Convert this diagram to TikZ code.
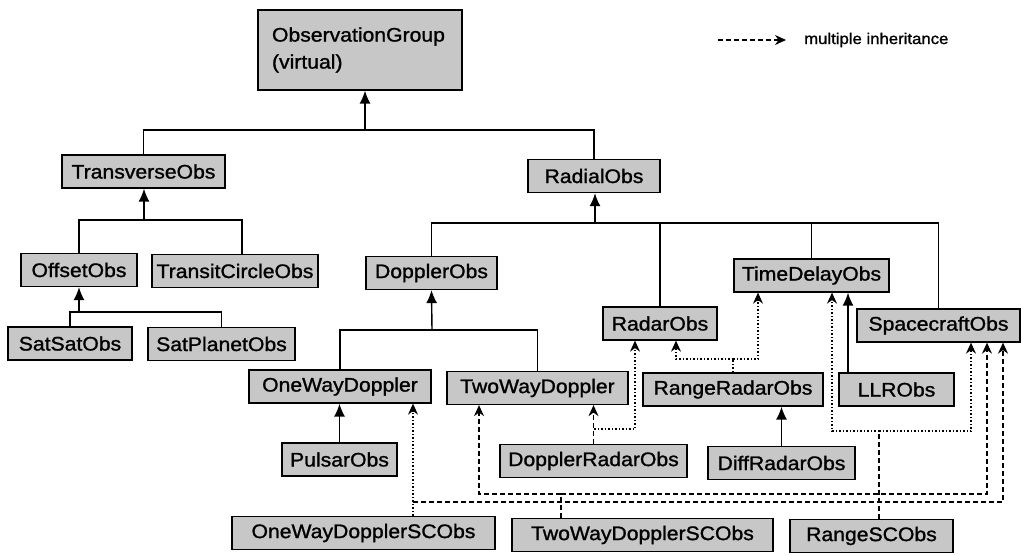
\documentclass[tikz,border=0pt]{standalone}
\usepackage{fontspec}
\setmainfont[FakeStretch=1.08, FakeBold=1.2]{Liberation Sans}
\usepackage{tikz}
\usetikzlibrary{arrows.meta}
\tikzstyle{cls}=[draw=black, line width=1.3pt, fill=black!22, inner sep=0pt, minimum height=33pt, font=\fontsize{19.6}{21}\selectfont]
\tikzstyle{tree}=[line width=1.4pt]
\tikzstyle{isa}=[line width=1.4pt, -{Latex[length=13pt,width=11pt]}]
\tikzstyle{multi}=[line width=1.1pt, dash pattern=on 5pt off 3pt, -{Stealth[length=11pt,width=10pt]}]
\tikzstyle{multid}=[line width=1.1pt, dash pattern=on 1.5pt off 2pt, -{Stealth[length=11pt,width=10pt]}]
\tikzstyle{legtext}=[inner sep=0pt, font=\fontsize{15.5}{17}\selectfont]

\begin{document}
\begin{tikzpicture}[x=1pt, y=-1pt]
\useasboundingbox (0,0) rectangle (1021,555);
\node[cls, minimum width=204pt, minimum height=80pt, align=left, text width=176pt,
  font=\fontsize{19.6}{27}\selectfont] (og) at (360,50) {ObservationGroup\\(virtual)};
\foreach \n/\x/\y/\w/\t in {
  transverse/143.5/171.5/163/TransverseObs, radial/594/176/132/RadialObs,
  offset/79/270/116/OffsetObs, transit/235/271/166/TransitCircleObs,
  doppler/431.5/273/131/DopplerObs, timedelay/811.5/275.5/155/TimeDelayObs,
  radar/660/323.5/114/RadarObs, spacecraft/938.5/325.5/163/SpacecraftObs,
  satsat/70/343.5/124/SatSatObs, satplanet/221.5/344/147/SatPlanetObs,
  oneway/340/386.5/182/OneWayDoppler, twoway/537.5/388/181/TwoWayDoppler,
  rangeradar/733/389.5/180/RangeRadarObs, llr/896.5/389.5/115/LLRObs,
  pulsar/339.5/459.5/115/PulsarObs, dopradar/593.5/461/187/DopplerRadarObs,
  diffradar/781.5/463/147/DiffRadarObs, onewaysc/363.5/533/263/OneWayDopplerSCObs,
  twowaysc/642.5/535/261/TwoWayDopplerSCObs, rangesc/871.5/536/163/RangeSCObs} {
	\node[cls, minimum width=\w pt] (\n) at (\x,\y) {\t};
}

% single inheritance
\coordinate (j0) at (365,130);
\draw[tree] (transverse.north) |- (j0) -| (radial.north);
\draw[isa] (j0) -- (j0 |- og.south);
\coordinate (j1) at (144,220);
\draw[tree] (offset.north) |- (j1) -| ([xshift=7pt]transit.north);
\draw[isa] (j1) -- (j1 |- transverse.south);
\coordinate (j2) at (79,312);
\draw[tree] (satsat.north) |- (j2) -| (satplanet.north);
\draw[isa] (j2) -- (offset.south);
\coordinate (j3) at (595,223);
\draw[tree] (doppler.north) |- (j3) -| (spacecraft.north);
\draw[tree] (radar.north) -- (radar.north |- j3);
\draw[tree] (timedelay.north) -- (timedelay.north |- j3);
\draw[isa] (j3) -- (j3 |- radial.south);
\coordinate (j4) at (432,330);
\draw[tree] (oneway.north) |- (j4) -| (twoway.north);
\draw[isa] (j4) -- (doppler.south);
\draw[isa] (pulsar.north) -- (pulsar.north |- oneway.south);
\draw[isa] (diffradar.north) -- (diffradar.north |- rangeradar.south);
\coordinate (llrtop) at ([xshift=-48.5pt]llr.north);
\draw[isa] (llrtop) -- (llrtop |- timedelay.south);

% multiple inheritance
\coordinate (m1) at (594,429);
\draw[multi] (dopradar.north) -- (dopradar.north |- twoway.south);
\draw[multid] (m1) -| ([xshift=-25pt]radar.south);
\coordinate (m2) at (733,359);
\draw[multid, -] (rangeradar.north) -- (m2);
\draw[multid] (m2) -| ([xshift=16pt]radar.south);
\draw[multid] (m2) -| ([xshift=-53.5pt]timedelay.south);
\coordinate (m3) at (879,431);
\draw[multi, -] ([xshift=7.5pt]rangesc.north) -- (m3);
\draw[multid] (m3) -| ([xshift=20.5pt]timedelay.south);
\draw[multid] (m3) -| ([xshift=32.5pt]spacecraft.south);
\coordinate (m4) at (561,494);
\draw[multi, -] ([xshift=-81.5pt]twowaysc.north) -- (m4);
\draw[multi] (m4) -| ([xshift=-58.5pt]twoway.south);
\draw[multi] (m4) -| ([xshift=48.5pt]spacecraft.south);
\coordinate (m5) at (413,502);
\draw[multid] ([xshift=49.5pt]onewaysc.north) -- ([xshift=73pt]oneway.south);
\draw[multi] (m5) -| ([xshift=64.5pt]spacecraft.south);

% legend
\node[legtext, anchor=west] (legend) at (804,40) {multiple inheritance};
\coordinate (lg) at (718,40);
\draw[multi] (lg) -- ([xshift=-18pt]legend.west);
\end{tikzpicture}
\end{document}
